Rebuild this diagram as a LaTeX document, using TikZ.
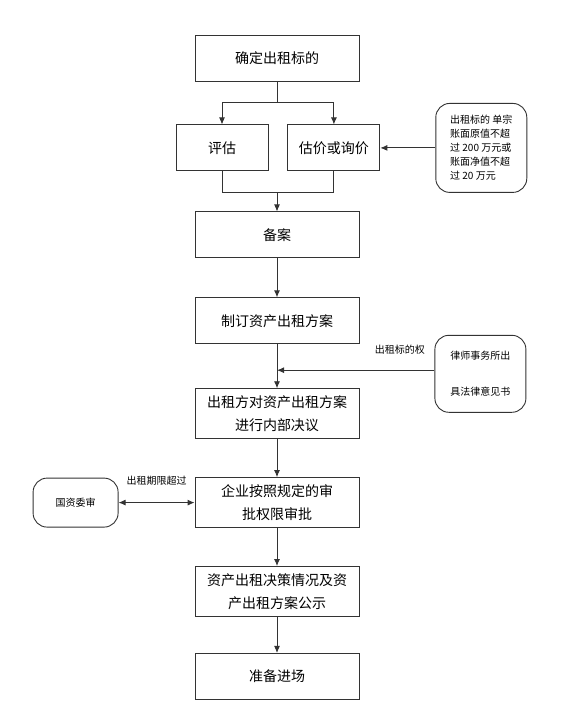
\documentclass[tikz,border=0pt]{standalone}
\usepackage{fontspec}
\setmainfont{Noto Sans CJK SC}
\usetikzlibrary{shapes.geometric, arrows.meta}
\usetikzlibrary{positioning}
\tikzset{
  box/.style={rectangle, minimum width=164pt, minimum height=46pt, text centered, align=center, draw=black!80, line width=0.9pt, font=\fontsize{14}{23}\selectfont},
  tall/.style={box, minimum height=50pt},
  half/.style={box, minimum width=92pt},
  memo/.style={rectangle, rounded corners=14pt, minimum width=91pt, draw=black!80, line width=0.9pt, font=\fontsize{10}{14}\selectfont},
  lbl/.style={font=\fontsize{10}{12}\selectfont, inner sep=1pt},
  >={Latex[length=7pt,width=6pt]}
}
\begin{document}
\begin{tikzpicture}[x=1pt,y=-1pt,line width=0.9pt,draw=black!80]
\useasboundingbox (0,0) rectangle (568,716);
\node[box] (target) at (277,58) {确定出租标的};
\node[half, below=43pt of target, xshift=-55pt] (eval) {评估};
\node[half, right=19pt of eval] (quote) {估价或询价};
\node[memo, right=55pt of quote, minimum height=89pt, align=left] (limit) {出租标的 单宗\\账面原值不超\\过 200 万元或\\账面净值不超\\过 20 万元};
\node[box, below=130pt of target] (filing) {备案};
\node[box, below=39pt of filing] (plan) {制订资产出租方案};
\node[tall, below=44pt of plan] (resolve) {出租方对资产出租方案\\进行内部决议};
\node[memo, right=75pt of plan, yshift=-53pt, minimum height=77pt, align=center, font=\fontsize{10}{36}\selectfont] (lawyer) {律师事务所出\\具法律意见书};
\node[tall, below=38pt of resolve] (approve) {企业按照规定的审\\批权限审批};
\node[memo, left=76pt of approve, minimum width=85pt, minimum height=49pt] (sasac) {国资委审};
\node[tall, below=38pt of approve] (publish) {资产出租决策情况及资\\产出租方案公示};
\node[box, below=36pt of publish] (enter) {准备进场};

% split and merge
\draw[->] (target.south) -- ++(0,21) coordinate (split) -| (eval.north);
\draw[->] (split) -| (quote.north);
\draw (eval.south) -- ++(0,21) coordinate (merge) -| (quote.south);
\draw[->] (merge -| filing.north) -- (filing.north);
\draw[->] (limit) -- (quote);
%
\draw[->] (filing) -- (plan);
\draw[->] (plan) -- (resolve) coordinate[pos=0.59] (join);
\draw[->] (lawyer.west |- join) -- node[lbl, pos=0.22, above=14pt] {出租标的权} (join);
\draw[->] (resolve) -- (approve);
\draw[<->] (sasac) -- node[lbl, above=16pt] {出租期限超过} (approve);
\draw[->] (approve) -- (publish);
\draw[->] (publish) -- (enter);
\end{tikzpicture}
\end{document}
